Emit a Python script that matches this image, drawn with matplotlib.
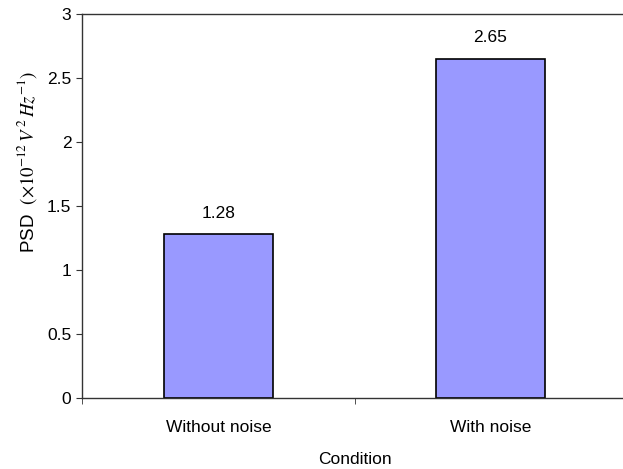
import numpy as np
import matplotlib
matplotlib.use("Agg")
import matplotlib.pyplot as plt

conditions = ["Without noise", "With noise"]
psd_values = [1.28, 2.65]
y_ticks = [0, 0.5, 1, 1.5, 2, 2.5, 3]
y_tick_labels = ["0", "0.5", "1", "1.5", "2", "2.5", "3"]

plt.rcParams['font.family'] = ['Liberation Sans', 'DejaVu Sans']
plt.rcParams['mathtext.fontset'] = 'stix'
plt.rcParams['font.size'] = 12.5

fig = plt.figure(figsize=(6.23, 4.69), dpi=100)
ax = fig.add_axes([82.5 / 623, 71 / 469, 544 / 623, 384 / 469])

x = np.arange(len(conditions))
bars = ax.bar(x, psd_values, width=0.4, color="#9999FF", edgecolor="black", linewidth=1.2)

for xi, v in zip(x, psd_values):
    ax.annotate(f"{v:.2f}", (xi, v), xytext=(0, 15), textcoords="offset points",
                ha="center", va="center", fontsize=12.5)

ax.set_xlim(-0.5, 1.5)
ax.set_ylim(0, 3)
ax.set_yticks(y_ticks)
ax.set_yticklabels(y_tick_labels)
ax.set_xticks(x)
ax.set_xticklabels(conditions)
ax.set_xticks([-0.5, 0.5, 1.5], minor=True)
ax.tick_params(axis="x", which="major", length=0, pad=16)
ax.tick_params(axis="x", which="minor", length=4, direction="out", color="#333333")
ax.tick_params(axis="y", length=4, direction="out", pad=4, color="#333333")

for side in ["left", "bottom", "top", "right"]:
    ax.spines[side].set_color("#333333")
    ax.spines[side].set_linewidth(1.0)

ax.set_xlabel("Condition", labelpad=12)
ax.set_ylabel(r"PSD  $\left(\times 10^{-12}\,V^{\,2}\,Hz^{-1}\right)$")
ax.yaxis.label.set_fontsize(13.5)
ax.yaxis.set_label_coords(-0.08, 0.615)

fig.savefig("out.png", dpi=100)
